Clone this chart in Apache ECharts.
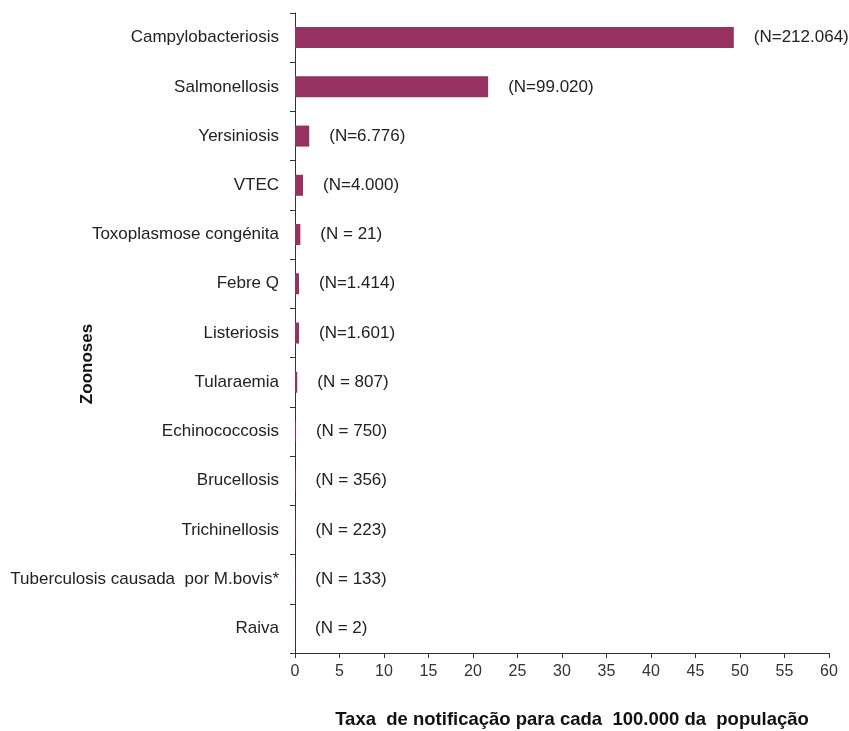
<!DOCTYPE html>
<html>
<head>
<meta charset="utf-8">
<style>
  html, body { margin: 0; padding: 0; background: #fff; }
  #chart { width: 849px; height: 731px; }
</style>
<script src="https://cdn.jsdelivr.net/npm/echarts@6/dist/echarts.min.js"></script>
</head>
<body>
<div id="chart"></div>
<script>
// zoonoses, top to bottom
const diseases = [
  'Campylobacteriosis', 'Salmonellosis', 'Yersiniosis', 'VTEC',
  'Toxoplasmose congénita', 'Febre Q', 'Listeriosis', 'Tularaemia',
  'Echinococcosis', 'Brucellosis', 'Trichinellosis',
  'Tuberculosis causada  por M.bovis*', 'Raiva'
];
// notification rate per 100.000
const rates = [49.3, 21.7, 1.6, 0.9, 0.6, 0.45, 0.45, 0.25, 0.1, 0.07, 0.05, 0.04, 0];
const caseLabels = [
  '(N=212.064)', '(N=99.020)', '(N=6.776)', '(N=4.000)', '(N = 21)',
  '(N=1.414)', '(N=1.601)', '(N = 807)', '(N = 750)', '(N = 356)',
  '(N = 223)', '(N = 133)', '(N = 2)'
];
const xTicks = { min: 0, max: 60, interval: 5 };

const chart = echarts.init(document.getElementById('chart'));
const font = 'Liberation Sans, Arial, sans-serif';

chart.setOption({
  animation: false,
  textStyle: { fontFamily: font },
  grid: { left: 295, right: 20, top: 13, bottom: 78, containLabel: false, outerBoundsMode: 'none' },
  graphic: [{
    type: 'text',
    x: 87,
    y: 364,
    rotation: Math.PI / 2,
    style: {
      text: 'Zoonoses',
      font: 'bold 17px Liberation Sans, Arial, sans-serif',
      fill: '#111',
      textAlign: 'center',
      textVerticalAlign: 'middle'
    }
  }],
  xAxis: {
    type: 'value',
    min: xTicks.min,
    max: xTicks.max,
    interval: xTicks.interval,
    name: 'Taxa  de notificação para cada  100.000 da  população',
    nameLocation: 'middle',
    nameGap: 57,
    nameTextStyle: { fontSize: 18.5, fontWeight: 'bold', color: '#111', fontFamily: font, padding: [0, 0, 0, 20] },
    axisLine: { show: true, lineStyle: { color: '#333', width: 1 } },
    axisTick: { show: true, length: 5, lineStyle: { color: '#333' } },
    axisLabel: { fontSize: 16, color: '#333', margin: 11, fontFamily: font },
    splitLine: { show: false }
  },
  yAxis: {
    type: 'category',
    inverse: true,
    data: diseases,
    axisLine: { show: true, lineStyle: { color: '#333', width: 1 } },
    axisTick: { show: true, length: 5, lineStyle: { color: '#333' } },
    axisLabel: { fontSize: 17, color: '#222', margin: 16, fontFamily: font }
  },
  series: [{
    type: 'bar',
    data: rates,
    barWidth: 21,
    itemStyle: { color: '#963262' },
    label: {
      show: true,
      position: 'right',
      distance: 20,
      fontSize: 17,
      color: '#222',
      fontFamily: font,
      formatter: p => caseLabels[p.dataIndex]
    }
  }]
});
</script>
</body>
</html>
